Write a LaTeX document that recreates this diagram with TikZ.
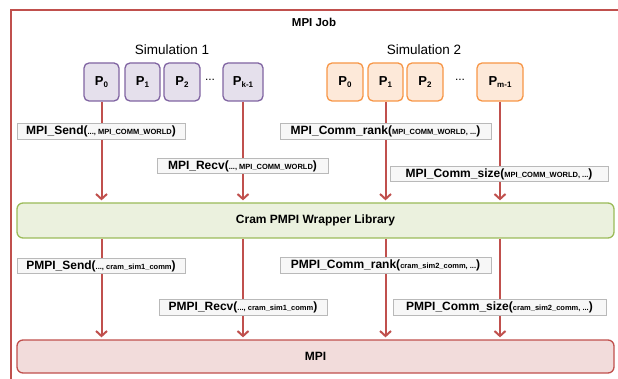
\documentclass[tikz,border=0pt]{standalone}
\usepackage{fontspec}
\setmainfont{Liberation Sans}
\usetikzlibrary{arrows.meta,%
		positioning}

\definecolor{jobred}{HTML}{C0504D}
\definecolor{simone}{HTML}{E5E0EC}
\definecolor{simoneline}{HTML}{8064A2}
\definecolor{simtwo}{HTML}{FDE9D9}
\definecolor{simtwoline}{HTML}{F79646}
\definecolor{wrapfill}{HTML}{EBF1DE}
\definecolor{wrapline}{HTML}{9BBB59}
\definecolor{mpifill}{HTML}{F2DCDB}

\newcommand{\fsz}[1]{\fontsize{#1}{#1}\selectfont}
\newcommand{\pid}[1]{\textbf{P}\raisebox{-2.5pt}{\fsz{8}\textbf{#1}}}
\newcommand{\carg}[1]{{\fsz{7.5}\textbf{#1}}}

\tikzset{
  proc/.style={draw,rounded corners=5pt,line width=1.3pt,minimum height=38pt,inner sep=0pt,font=\fsz{13}},
  procone/.style={proc,fill=simone,draw=simoneline},
  proctwo/.style={proc,fill=simtwo,draw=simtwoline},
  layer/.style={draw,rounded corners=6pt,line width=1.3pt,minimum width=597pt,inner sep=0pt,font=\fsz{12}\bfseries},
  call/.style={draw=gray!55,fill=gray!6,line width=0.8pt,minimum height=15.5pt,inner sep=0pt,font=\fsz{12}\bfseries},
  flow/.style={jobred,line width=2pt,-{Straight Barb[length=5pt,width=11pt]},shorten >=2pt}
}

\begin{document}
\begin{tikzpicture}[x=1pt,y=-1pt]
  \useasboundingbox (0,0) rectangle (618,379);
  \draw[jobred,line width=1.5pt] (11,390) |- (630,10);
  \node[font=\fsz{11.5}\bfseries] (job) at (314,22) {MPI Job};

  \node[font=\fsz{13.5}] (sim1) at (172,50) {Simulation 1};
  \node[font=\fsz{13.5}] (sim2) at (424,50) {Simulation 2};

  % simulation 1
  \node[procone,minimum width=35pt] (a0) at (101.5,82) {\pid{0}};
  \node[procone,minimum width=35pt] (a1) at (142.5,82) {\pid{1}};
  \node[procone,minimum width=36pt] (a2) at (182,82) {\pid{2}};
  \node[font=\fsz{12}] (adots) at (210,80) {...};
  \node[procone,minimum width=40pt] (ak) at (243,82) {\pid{k-1}};

  % simulation 2
  \node[proctwo,minimum width=36pt] (b0) at (345,82) {\pid{0}};
  \node[proctwo,minimum width=35pt] (b1) at (385.5,82) {\pid{1}};
  \node[proctwo,minimum width=36pt] (b2) at (425,82) {\pid{2}};
  \node[font=\fsz{12}] (bdots) at (460,80) {...};
  \node[proctwo,minimum width=46pt] (bm) at (500,82) {\pid{m-1}};

  \node[layer,fill=wrapfill,draw=wrapline,minimum height=35pt] (wrap) at (315.5,220.5) {Cram PMPI Wrapper Library};
  \node[layer,fill=mpifill,draw=jobred,minimum height=33pt] (mpi) at (315.5,356.5) {MPI};

  \foreach \p in {a0,ak,b1,bm} {
    \draw[flow] (\p.south) -- (\p |- wrap.north);
    \draw[flow] (\p |- wrap.south) -- (\p |- mpi.north);
  }

  % calls above the wrapper
  \node[call,minimum width=168pt] (send) at (101,131.5) {MPI\_Send(\carg{..., MPI\_COMM\_WORLD})};
  \node[call,minimum width=171pt] (recv) at (242.5,166) {MPI\_Recv(\carg{..., MPI\_COMM\_WORLD})};
  \node[call,minimum width=211pt] (rank) at (385.5,131.5) {MPI\_Comm\_rank(\carg{MPI\_COMM\_WORLD, ...})};
  \node[call,minimum width=218pt] (size) at (499,174) {MPI\_Comm\_size(\carg{MPI\_COMM\_WORLD, ...})};

  % calls below the wrapper
  \node[call,minimum width=168pt] (psend) at (101,266) {PMPI\_Send(\carg{..., cram\_sim1\_comm})};
  \node[call,minimum width=168pt] (precv) at (243,307.5) {PMPI\_Recv(\carg{..., cram\_sim1\_comm})};
  \node[call,minimum width=211pt] (prank) at (385.5,265.5) {PMPI\_Comm\_rank(\carg{cram\_sim2\_comm, ...})};
  \node[call,minimum width=213pt] (psize) at (499.5,307.5) {PMPI\_Comm\_size(\carg{cram\_sim2\_comm, ...})};
\end{tikzpicture}
\end{document}
